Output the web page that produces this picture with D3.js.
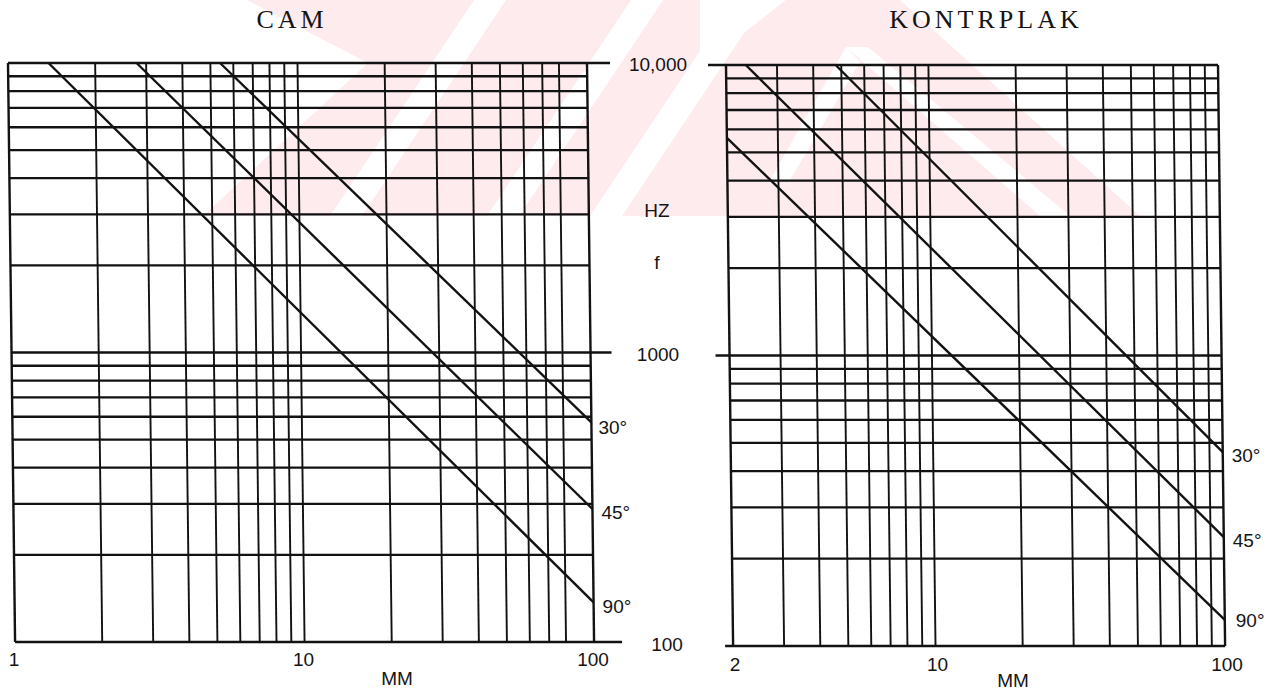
<!DOCTYPE html>
<html><head><meta charset="utf-8">
<script src="https://cdn.jsdelivr.net/npm/d3@7"></script>
<style>
body{margin:0;background:#fff}
svg{display:block}
text{font-family:"Liberation Sans",Arial,sans-serif;fill:#141414}
</style>
</head><body>
<svg id="c" width="1285" height="693"></svg>
<script>
// ---------- data ----------
const titles = ["CAM", "KONTRPLAK"];
const camXGrid  = [1,2,3,4,5,6,7,8,9,10,20,30,40,50,60,70,80,100];
const kontXGrid = [2,3,4,5,6,7,8,9,10,20,30,40,50,60,70,80,90,100];
const yGrid = [100,200,300,400,500,600,700,800,900,1000,2000,3000,4000,5000,6000,7000,8000,9000,10000];
const camXLabels  = [1, 10, 100];
const kontXLabels = [2, 10, 100];
const yLabelValues = [10000, 1000, 100];
const yLabelTexts  = ["10,000", "1000", "100"];
const xAxisTitle = "MM";
const yAxisTitle = ["HZ", "f"];
const angleLabels = ["30°", "45°", "90°"];
// lines: [thickness mm, frequency Hz] endpoints
const cam30  = [[5.4, 10000], [100, 574]];
const cam45  = [[2.78, 10000], [100, 288]];
const cam90  = [[1.38, 10000], [100, 137]];
const kont30 = [[4.78, 10000], [100, 465]];
const kont45 = [[2.34, 10000], [100, 237]];
const kont90 = [[2, 5610], [100, 123]];

// ---------- drawing ----------
const svg = d3.select("#c");
const skewDeg = 0.7, skewK = Math.tan(skewDeg * Math.PI / 180);
const ink = "#121212";

// faint scanned watermark (decoration behind the chart)
const defs = svg.append("defs");
defs.append("clipPath").attr("id", "wm").append("rect")
  .attr("x", 0).attr("y", 0).attr("width", 1285).attr("height", 216);
const wm = svg.append("g").attr("clip-path", "url(#wm)");
const pink = "#fdebee";
const wmShapes = [
  {fill: pink,   pts: [[247,0],[368,63],[203,216],[1140,216],[900,0]]},
  {fill: "#fff", pts: [[700,0],[786,0],[700,67]]},
  {fill: "#fff", pts: [[330,216],[362,216],[506,0],[474,0]]},
  {fill: "#fff", pts: [[487,216],[519,216],[663,0],[631,0]]},
  {fill: "#fff", pts: [[590,216],[622,216],[766,0],[734,0]]},
  {fill: "#fff", pts: [[846,47],[868,47],[1070,216],[1040,216]]},
  {fill: "#fff", pts: [[846,47],[860,62],[790,180],[770,180]]}
];
wm.selectAll("polygon").data(wmShapes).join("polygon")
  .attr("points", d => d.pts.map(p => p.join(",")).join(" "))
  .attr("fill", d => d.fill);

function panel(opt) {
  const x = d3.scaleLog().domain(opt.xDomain).range(opt.xRange);
  const y = d3.scaleLog().domain([100, 10000]).range(opt.yRange);
  const top = opt.yRange[1], bot = opt.yRange[0];
  const g = svg.append("g")
    .attr("transform", `translate(${-skewK * top},0) skewX(${skewDeg})`);
  const x0 = x(opt.xDomain[0]), x1 = x(opt.xDomain[1]);
  g.selectAll("line.v").data(opt.xGrid).join("line")
    .attr("x1", d => x(d)).attr("x2", d => x(d))
    .attr("y1", top).attr("y2", bot)
    .attr("stroke", ink)
    .attr("stroke-width", d => (d === opt.xDomain[0] || d === opt.xDomain[1]) ? 2.4 : 1.9);
  g.selectAll("line.h").data(yGrid).join("line")
    .attr("x1", d => (d === 10000 || d === 1000 || d === 100) && opt.extLeft ? opt.extLeft[d] : x0)
    .attr("x2", d => (d === 10000 || d === 1000 || d === 100) && opt.extRight ? opt.extRight[d] : x1)
    .attr("y1", d => y(d)).attr("y2", d => y(d))
    .attr("stroke", ink)
    .attr("stroke-width", d => (d === 10000 || d === 100) ? 2.6 : 2.3);
  const line = d3.line().x(d => x(d[0])).y(d => y(d[1]));
  opt.series.forEach(s => {
    g.append("path").attr("d", line(s)).attr("fill", "none")
      .attr("stroke", ink).attr("stroke-width", 2.4);
  });
  opt.series.forEach((s, i) => {
    const e = s[s.length - 1];
    const yy = y(e[1]);
    const xx = x(e[0]) + skewK * (yy - top);
    svg.append("text").attr("x", xx + opt.labDx[i]).attr("y", yy + opt.labDy[i])
      .attr("font-size", 19).text(angleLabels[i]);
  });
  opt.xLabels.forEach(v => {
    svg.append("text").attr("x", x(v) + skewK * (bot - top) + opt.xLabDx)
      .attr("y", opt.xLabY).attr("text-anchor", "middle")
      .attr("font-size", 19).text(String(v));
  });
  svg.append("text").attr("x", opt.mmX).attr("y", opt.mmY)
    .attr("text-anchor", "middle").attr("font-size", 19).text(xAxisTitle);
  svg.append("text").attr("x", opt.titleX).attr("y", 28)
    .attr("text-anchor", "middle")
    .style("font-family", '"Liberation Serif","Times New Roman",serif')
    .attr("font-size", 26).attr("letter-spacing", 4).text(opt.title);
  return {x, y};
}

const L = panel({
  title: titles[0], titleX: 292,
  xDomain: [1, 100], xRange: [8, 587], yRange: [642, 63],
  xGrid: camXGrid, xLabels: camXLabels, xLabDx: -1, xLabY: 666,
  extRight: {10000: 610, 1000: 608, 100: 615},
  series: [cam30, cam45, cam90],
  labDx: [7, 9, 9], labDy: [11.5, 10, 11],
  mmX: 397, mmY: 685
});
const R = panel({
  title: titles[1], titleX: 986,
  xDomain: [2, 100], xRange: [726, 1218], yRange: [646, 65],
  xGrid: kontXGrid, xLabels: kontXLabels, xLabDx: 2, xLabY: 671,
  extLeft: {10000: 708, 1000: 712, 100: 718},
  series: [kont30, kont45, kont90],
  labDx: [9, 9, 11], labDy: [9.5, 9.5, 7],
  mmX: 1013, mmY: 687
});

const midX = 658;
yLabelValues.forEach((v, i) => {
  const yy = (L.y(v) + R.y(v)) / 2;
  svg.append("text").attr("x", i === 2 ? 667 : midX).attr("y", yy + 7)
    .attr("text-anchor", "middle").attr("font-size", 19).text(yLabelTexts[i]);
});
svg.append("text").attr("x", 657).attr("y", 217).attr("text-anchor", "middle")
  .attr("font-size", 19).text(yAxisTitle[0]);
svg.append("text").attr("x", 657).attr("y", 269).attr("text-anchor", "middle")
  .attr("font-size", 19).text(yAxisTitle[1]);
</script>
</body></html>
